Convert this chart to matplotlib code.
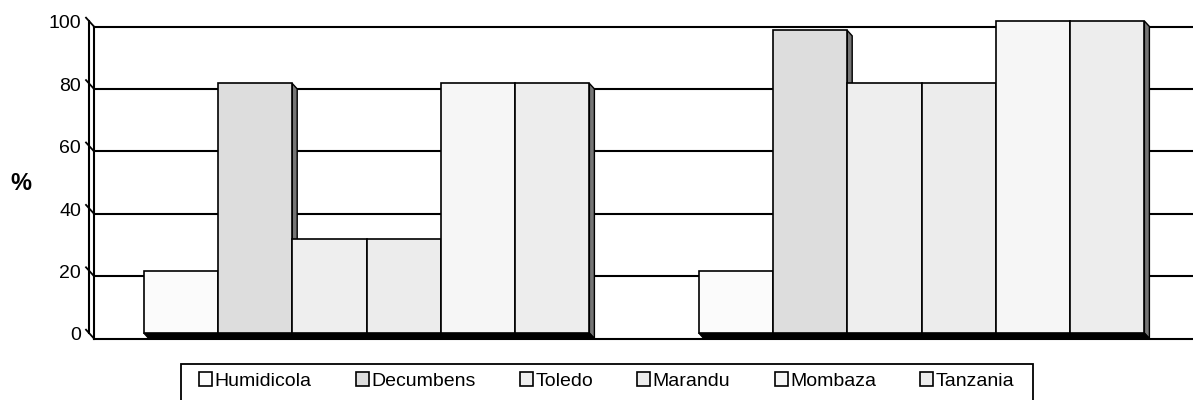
import matplotlib
matplotlib.use("Agg")
import matplotlib.pyplot as plt
from matplotlib.patches import Polygon, Rectangle, Patch
from matplotlib.lines import Line2D

plt.rcParams["font.family"] = ["Liberation Sans", "DejaVu Sans"]

# ---- data -------------------------------------------------------------
series = ["Humidicola", "Decumbens", "Toledo", "Marandu", "Mombaza", "Tanzania"]
group_a = [20, 80, 30, 30, 80, 80]
group_b = [20, 97, 80, 80, 100, 100]
yticks = [0, 20, 40, 60, 80, 100]
face_colors = ["#fbfbfb", "#dddddd", "#eeeeee", "#ececec", "#f6f6f6", "#ededed"]
side_color = "#757575"

# ---- figure / axes ----------------------------------------------------
W, H = 1193, 400
fig = plt.figure(figsize=(W / 100, H / 100), dpi=100)
ax = fig.add_axes([89 / W, 67 / H, 1110 / W, 312 / H])
ax.set_xlim(-0.5, 1.5)
ax.set_ylim(0, 100)
ax.axis("off")

# pixel -> data conversion for the depth (3-D) offset
bbox = ax.get_position()
px_x = (bbox.width * W) / 2.0      # pixels per x data unit
px_y = (bbox.height * H) / 100.0   # pixels per y data unit
DX = 5.0 / px_x
DY = 5.5 / px_y
x_left = -0.5
x_right = 1.5

# back-wall gridlines
for v in yticks:
    ax.add_line(Line2D([x_left + DX, x_right + 0.1], [v - DY, v - DY],
                       color="black", lw=1.5, clip_on=False, zorder=1))

# left wall (front and back edge)
ax.add_line(Line2D([x_left, x_left], [0, 100], color="black", lw=1.5,
                   clip_on=False, zorder=1))
ax.add_line(Line2D([x_left + DX, x_left + DX], [0 - DY, 100 - DY],
                   color="black", lw=1.5, clip_on=False, zorder=1))

# ticks running along the depth direction, plus labels
for v in yticks:
    ax.add_line(Line2D([x_left - 0.6 * DX, x_left + DX],
                       [v + 0.6 * DY, v - DY],
                       color="black", lw=1.3, clip_on=False, zorder=1))
    ax.text(x_left - 8.0 / px_x, v - 3.0 / px_y, str(v), ha="right",
            va="center", fontsize=14, color="black")

ax.text(x_left - 68.0 / px_x, 48, "%", ha="center", va="center",
        fontsize=17, fontweight="bold", color="black")

# ---- bars -------------------------------------------------------------
bar_w = 74.3 / 555.0
centers = [0, 1]
for gi, values in enumerate([group_a, group_b]):
    for i, (val, col) in enumerate(zip(values, face_colors)):
        x0 = centers[gi] + (i - 3) * bar_w
        x1 = x0 + bar_w
        # dark side face
        ax.add_patch(Polygon([(x1, val), (x1 + DX, val - DY), (x1 + DX, -DY),
                              (x1, 0)], closed=True, facecolor=side_color,
                             edgecolor="black", lw=1.0, clip_on=False,
                             zorder=2 + 2 * i))
        # floor shadow under the bar
        ax.add_patch(Polygon([(x0, 0), (x1, 0), (x1 + DX, -DY), (x0 + DX, -DY)],
                             closed=True, facecolor="black", edgecolor="black",
                             lw=0.8, clip_on=False, zorder=2 + 2 * i))
        # front face
        ax.bar(x0, val, width=bar_w, align="edge", color=col,
               edgecolor="black", linewidth=1.2, zorder=3 + 2 * i,
               clip_on=False)

# ---- legend -----------------------------------------------------------
handles = [Patch(facecolor=c, edgecolor="black", linewidth=1.2)
           for c in face_colors]
fig.legend(handles, series, loc="upper left",
           bbox_to_anchor=(199 / W, 1 - 372 / H),
           bbox_transform=fig.transFigure, frameon=False, ncol=6,
           fontsize=14, borderpad=0, borderaxespad=0,
           handlelength=0.67, handleheight=0.75, handletextpad=0.12,
           columnspacing=2.28)
fig.add_artist(Rectangle((181 / W, -4 / H), (1033 - 181) / W, (400 - 364 + 4) / H,
                         transform=fig.transFigure, fill=False,
                         edgecolor="black", linewidth=1.3))

fig.savefig("out.png", dpi=100)
